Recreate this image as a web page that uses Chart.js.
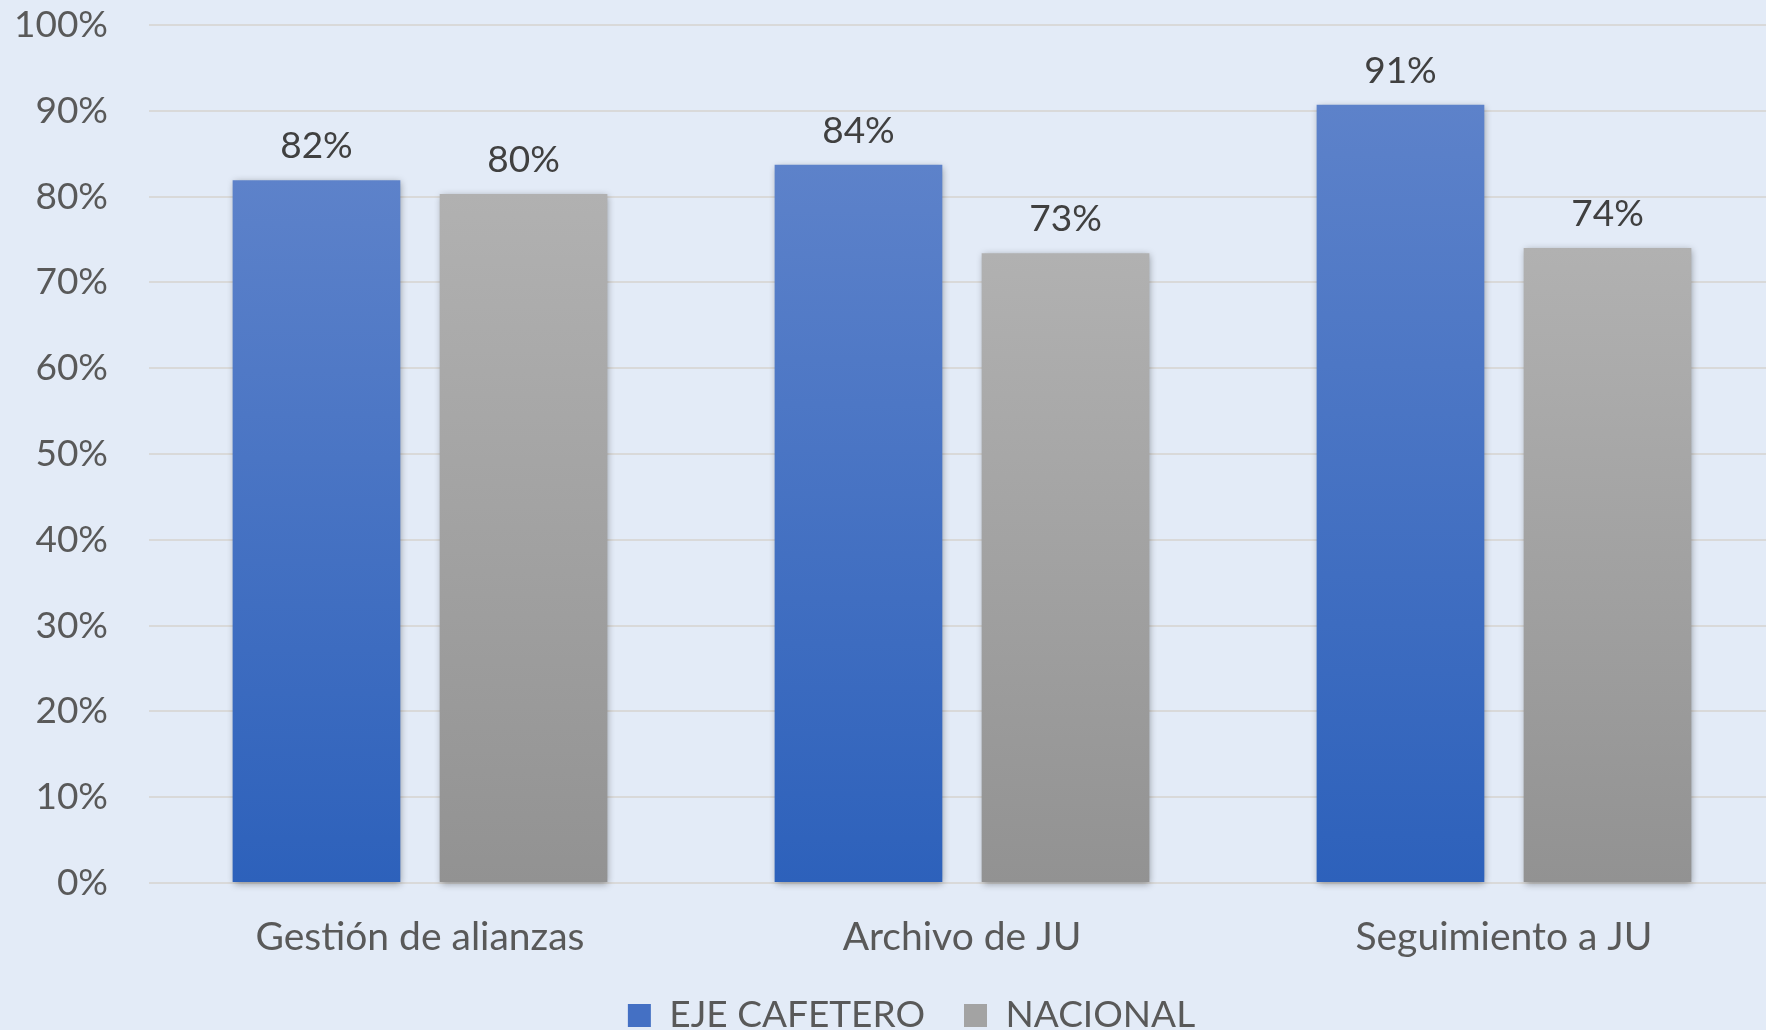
<!DOCTYPE html>
<html>
<head>
<meta charset="utf-8">
<script src="https://cdn.jsdelivr.net/npm/chart.js@4/dist/chart.umd.min.js"></script>
<style>
  html, body { margin: 0; padding: 0; background: #E3EBF7; overflow: hidden; }
  #wrap { position: absolute; left: 0; top: 0; width: 1814px; height: 1044px; }
</style>
</head>
<body>
<div id="wrap"><canvas id="c"></canvas></div>
<script>
const categories = ['Gestión de alianzas', 'Archivo de JU', 'Seguimiento a JU'];
const seriesNames = ['EJE CAFETERO', 'NACIONAL'];
const ejeCafetero = [81.9, 83.7, 90.7];
const nacional = [80.3, 73.4, 74.0];
const yTicks = [0, 10, 20, 30, 40, 50, 60, 70, 80, 90, 100];

const FONT = 'Lato, "Open Sans", sans-serif';
const gradStops = {
  blue: ['#5D82CA', '#2D61BB'],
  gray: ['#B1B1B1', '#929292']
};

function barGradient(key) {
  return function (ctx) {
    const chart = ctx.chart;
    const y = chart.scales && chart.scales.y;
    if (!chart.chartArea || !y || ctx.type !== 'data') return gradStops[key][1];
    const top = y.getPixelForValue(ctx.raw);
    const base = y.getPixelForValue(0);
    const g = chart.ctx.createLinearGradient(0, top, 0, base);
    g.addColorStop(0, gradStops[key][0]);
    g.addColorStop(1, gradStops[key][1]);
    return g;
  };
}

const shadowPlugin = {
  id: 'barShadow',
  beforeDatasetsDraw(chart) {
    const c = chart.ctx;
    c.save();
    c.shadowColor = 'rgba(0,0,0,0.35)';
    c.shadowBlur = 7;
    c.shadowOffsetX = 1;
    c.shadowOffsetY = 2;
  },
  afterDatasetsDraw(chart) {
    chart.ctx.restore();
  }
};

const labelPlugin = {
  id: 'valueLabels',
  afterDatasetsDraw(chart) {
    const c = chart.ctx;
    c.save();
    c.font = '37px ' + FONT;
    c.fillStyle = '#404040';
    c.textAlign = 'center';
    c.textBaseline = 'alphabetic';
    chart.data.datasets.forEach((ds, i) => {
      chart.getDatasetMeta(i).data.forEach((bar, j) => {
        c.fillText(Math.round(ds.data[j]) + '%', bar.x, bar.y - 22);
      });
    });
    c.restore();
  }
};

// centre the legend as in the original
const legendShift = {
  id: 'legendShift',
  afterLayout(chart) {
    const lg = chart.legend;
    if (lg) { lg.left += 24; lg.right += 24; }
  }
};

new Chart(document.getElementById('c'), {
  type: 'bar',
  data: {
    labels: categories,
    datasets: [
      { label: seriesNames[0], data: ejeCafetero, backgroundColor: barGradient('blue'), clip: false,
        categoryPercentage: 0.764, barPercentage: 0.81 },
      { label: seriesNames[1], data: nacional, backgroundColor: barGradient('gray'), clip: false,
        categoryPercentage: 0.764, barPercentage: 0.81 }
    ]
  },
  options: {
    responsive: true,
    maintainAspectRatio: false,
    animation: false,
    layout: { padding: { left: 0, right: 39, top: 25, bottom: 0 } },
    plugins: {
      tooltip: { enabled: false },
      legend: {
        position: 'bottom',
        labels: {
          color: '#595959',
          font: { family: FONT, size: 37 },
          boxWidth: 23,
          boxHeight: 23,
          padding: 39,
          generateLabels(chart) {
            return seriesNames.map((n, i) => ({
              text: n,
              fillStyle: i === 0 ? '#4470C4' : '#A3A3A3',
              strokeStyle: 'rgba(0,0,0,0)',
              lineWidth: 0,
              datasetIndex: i,
              fontColor: '#595959'
            }));
          }
        }
      }
    },
    scales: {
      x: {
        afterFit(scale) { scale.height = 75; },
        grid: { display: false, drawTicks: false },
        border: { display: false },
        ticks: { color: '#595959', font: { family: FONT, size: 39, lineHeight: 1.0 }, padding: 35, maxRotation: 0 }
      },
      y: {
        min: 0,
        max: 100,
        afterBuildTicks(scale) { scale.ticks = yTicks.map(v => ({ value: v })); },
        afterFit(scale) { scale.width = 149; scale.paddingTop = 22; scale.paddingBottom = 22; },
        grid: { color: '#D9D9D9', lineWidth: 2, drawTicks: false },
        border: { display: false },
        ticks: {
          color: '#595959',
          font: { family: FONT, size: 37 },
          padding: 41,
          callback: v => v + '%'
        }
      }
    }
  },
  plugins: [shadowPlugin, labelPlugin, legendShift]
});
</script>
</body>
</html>
